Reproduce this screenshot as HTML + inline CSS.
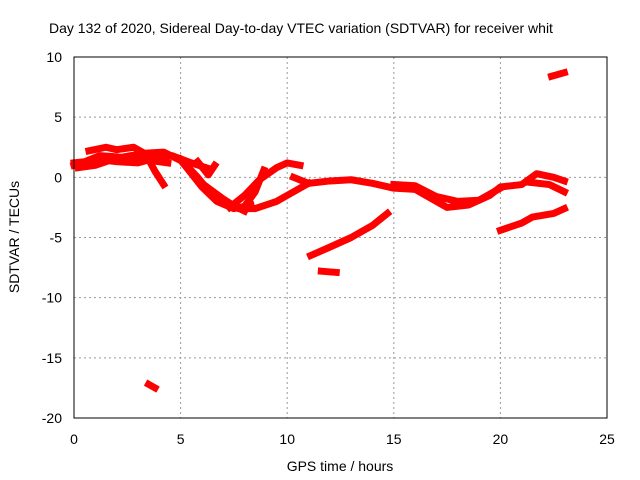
<!DOCTYPE html>
<html><head><meta charset="utf-8"><style>
body{margin:0;background:#fff}
svg{display:block;font-family:"Liberation Sans",sans-serif}
</style></head><body>
<svg id="chart" width="640" height="480" viewBox="0 0 640 480">
<rect width="640" height="480" fill="#fff"/>
<text x="49" y="33" font-size="14" fill="#000">Day 132 of 2020, Sidereal Day-to-day VTEC variation (SDTVAR) for receiver whit</text>
<g id="grid"></g>
<g id="series"></g>
<rect x="74" y="57" width="533" height="361" fill="none" stroke="#000" stroke-width="1"/>
<g id="ticks"></g>
<text x="340" y="471" font-size="14" text-anchor="middle">GPS time / hours</text>
<text transform="translate(19,237) rotate(-90)" font-size="14" text-anchor="middle">SDTVAR / TECUs</text>
</svg>
<script>
const xTicks=[0,5,10,15,20,25];
const yTicks=[10,5,0,-5,-10,-15,-20];
const tracks=[
[[0,1.0],[1,1.5],[2,1.3],[3,1.2],[3.8,1.6],[4.6,1.8],[5.5,1.2],[6.2,0.8]],
[[0,1.2],[0.5,1.3],[1.2,1.8],[2,1.7],[3,1.5],[3.5,1.9],[4.2,2.0]],
[[0.2,0.8],[1,1.0],[2,1.6],[3,1.9],[3.6,1.4],[4.4,1.2]],
[[0.7,2.2],[1.5,2.5],[2,2.3],[2.8,2.5],[3.3,2.0],[4.2,2.1],[5,1.4],[6,-0.5],[7,-1.8],[7.7,-2.6],[8.5,-2.6],[9.5,-2.0],[10,-1.5],[11,-0.5]],
[[3.4,1.8],[3.8,0.5],[4.2,-0.6]],
[[5,1.5],[5.8,0],[6.5,-1.5],[7.3,-2.2],[8,-2.8]],
[[5.2,1.0],[6,-0.8],[6.7,-2.0],[7.5,-2.6],[8.3,-2.3]],
[[5.8,1.3],[6.3,0.2],[6.6,1.0]],
[[7.3,-2.5],[8,-1.5],[8.7,-0.2],[9.5,0.8],[10,1.2],[10.6,1.0]],
[[8,-2.4],[8.5,-1.2],[8.9,0.6]],
[[10.3,0],[11,-0.5],[12,-0.3],[13,-0.2],[14,-0.5],[15,-0.9],[16,-1.0],[17,-2.0],[17.5,-2.5],[18.5,-2.3],[19.5,-1.5],[20,-0.8],[21,-0.6],[21.7,0.3],[22.5,0],[23,-0.3]],
[[15,-0.6],[16,-0.7],[17,-1.6],[18,-2.0],[19,-1.9],[20,-0.9]],
[[21.3,-0.4],[22.3,-0.6],[23,-1.2]],
[[11.1,-6.5],[12,-5.8],[13,-5],[14,-4],[14.7,-3]],
[[11.6,-7.8],[12.3,-7.9]],
[[20,-4.4],[21,-3.8],[21.5,-3.3],[22.5,-3.0],[23,-2.6]],
[[22.4,8.4],[23,8.7]],
[[3.5,-17.2],[3.8,-17.5]]
];
const NS='http://www.w3.org/2000/svg';
const X=h=>74+h*(533/25);
const Y=v=>57+(10-v)*(361/30);
const grid=document.getElementById('grid'),ticks=document.getElementById('ticks'),ser=document.getElementById('series');
function mk(t,a,p){const e=document.createElementNS(NS,t);for(const k in a)e.setAttribute(k,a[k]);p.appendChild(e);return e;}
xTicks.forEach(t=>{
 if(t>0&&t<25){const g=mk('line',{x1:X(t),x2:X(t),y1:57,y2:418,stroke:'#999','stroke-dasharray':'2,3'},grid);
 
 }
 const l=mk('text',{x:X(t),y:444,'font-size':14,'text-anchor':'middle'},ticks);l.textContent=t;
 
 
});
yTicks.forEach(t=>{
 if(t<10&&t>-20){const g=mk('line',{x1:74,x2:607,y1:Y(t),y2:Y(t),stroke:'#999','stroke-dasharray':'2,3'},grid);
 
 }
 const l=mk('text',{x:62,y:Y(t)+5,'font-size':14,'text-anchor':'end'},ticks);l.textContent=t;
 
 
});
tracks.forEach(tr=>{
 const p=mk('polyline',{points:tr.map(d=>X(d[0])+','+Y(d[1])).join(' '),fill:'none',stroke:'#f00','stroke-width':7,'stroke-linejoin':'round','stroke-linecap':'square'},ser);
 
 
});
</script>
</body></html>
